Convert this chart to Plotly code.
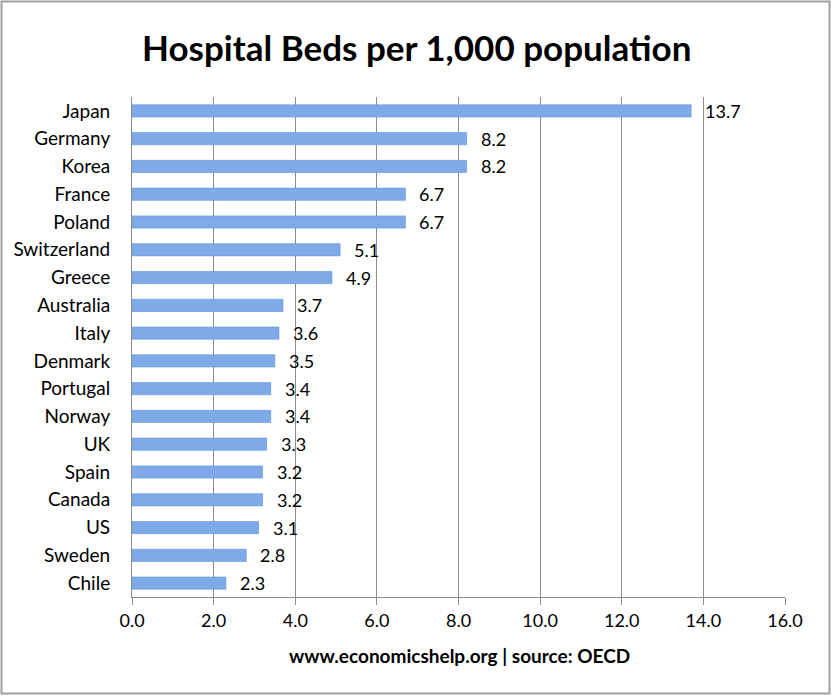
import plotly.graph_objects as go

countries = ["Japan", "Germany", "Korea", "France", "Poland", "Switzerland", "Greece",
             "Australia", "Italy", "Denmark", "Portugal", "Norway", "UK", "Spain",
             "Canada", "US", "Sweden", "Chile"]
beds = [13.7, 8.2, 8.2, 6.7, 6.7, 5.1, 4.9, 3.7, 3.6, 3.5, 3.4, 3.4, 3.3, 3.2, 3.2, 3.1, 2.8, 2.3]
x_ticks = [0, 2, 4, 6, 8, 10, 12, 14, 16]
x_tick_labels = ["0.0", "2.0", "4.0", "6.0", "8.0", "10.0", "12.0", "14.0", "16.0"]

FONT = "Lato, 'Open Sans', sans-serif"
W, H = 832, 696
L, R, T, B = 132, 47, 97, 99

fig = go.Figure()
fig.add_trace(go.Bar(
    x=beds, y=countries, orientation="h",
    marker=dict(color="#7eabe7", line=dict(color="#6294d8", width=0.6)),
    width=0.44, hoverinfo="x+y",
))

for c, v in zip(countries, beds):
    fig.add_annotation(x=v, y=c, text=f"{v:.1f}", showarrow=False,
                       xanchor="left", xshift=12, yshift=0,
                       font=dict(family=FONT, size=18, color="#000"))

pw, ph = W - L - R, H - T - B
def px_x(p):
    return (p - L) / pw
def px_y(p):
    return (H - B - p) / ph

fig.add_shape(type="rect", xref="paper", yref="paper",
              x0=px_x(1.5), x1=px_x(829.5), y0=px_y(1.5), y1=px_y(693.5),
              line=dict(color="#a0a0a0", width=2), layer="below")

fig.add_annotation(xref="paper", yref="paper", x=px_x(416), y=px_y(47),
                   text="<b>Hospital Beds per 1,000 population</b>", showarrow=False,
                   xanchor="center", yanchor="middle",
                   font=dict(family=FONT, size=35, color="#000"))
fig.add_annotation(xref="paper", yref="paper", x=px_x(460), y=px_y(656),
                   text="<b>www.economicshelp.org | source: OECD</b>", showarrow=False,
                   xanchor="center", yanchor="middle",
                   font=dict(family=FONT, size=19, color="#000"))

fig.update_layout(
    width=W, height=H,
    margin=dict(l=L, r=R, t=T, b=B, pad=0),
    paper_bgcolor="white", plot_bgcolor="white",
    showlegend=False,
    bargap=0.56,
    font=dict(family=FONT, size=18, color="#000"),
)
fig.update_xaxes(range=[0, 16], tickvals=x_ticks, ticktext=x_tick_labels,
                 showgrid=True, gridcolor="#8c8c8c", gridwidth=1,
                 showline=True, linecolor="#8c8c8c", linewidth=1,
                 ticks="outside", ticklen=7, tickcolor="#8c8c8c",
                 tickfont=dict(family=FONT, size=18), zeroline=False)
fig.update_yaxes(autorange="reversed", showgrid=False,
                 showline=True, linecolor="#8c8c8c", linewidth=1,
                 ticks="", ticklabelstandoff=17,
                 tickfont=dict(family=FONT, size=19))

fig.write_html("out.html", config={"displayModeBar": False},
               post_script="document.body.style.margin='0';document.body.style.overflow='hidden';")
